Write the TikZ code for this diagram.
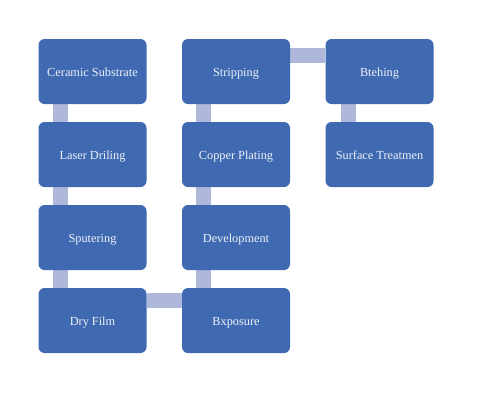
\documentclass[tikz,border=0pt]{standalone}
\usepackage{fontspec}
\setmainfont{Liberation Serif}
\usepackage{tikz}
\usetikzlibrary{positioning,calc}
\pgfdeclarelayer{background}
\pgfsetlayers{background,main}
\definecolor{boxblue}{HTML}{3F6AB2}
\definecolor{linkblue}{HTML}{AEB8DA}
\definecolor{boxtext}{HTML}{EEF1F8}

\begin{document}
\begin{tikzpicture}[x=1pt,y=-1pt,
  every node/.style={rectangle,rounded corners=6pt,fill=boxblue,text=boxtext,minimum width=108pt,minimum height=65pt,font=\fontsize{12.3}{14}\selectfont,inner sep=0pt,text height=10.5pt,text depth=0pt},
  link/.style={draw=linkblue,line width=15pt}]
\useasboundingbox (0,0) rectangle (495,400);

\node (c1) at (92.5,71.5) {Ceramic Substrate};
\node (c2) at (92.5,154.5) {Laser Driling};
\node (c3) at (92.5,237.5) {Sputering};
\node (c4) at (92.5,320.5) {Dry Film};

\node (d4) at (236,320.5) {Bxposure};
\node (d3) at (236,237.5) {Development};
\node (d2) at (236,154.5) {Copper Plating};
\node (d1) at (236,71.5) {Stripping};

\node (e1) at (379.5,71.5) {Btehing};
\node (e2) at (379.5,154.5) {Surface Treatmen};

\begin{pgfonlayer}{background}
\draw[link] ([xshift=22pt]c1.south west) -- ([xshift=22pt]c2.north west);
\draw[link] ([xshift=22pt]c2.south west) -- ([xshift=22pt]c3.north west);
\draw[link] ([xshift=22pt]c3.south west) -- ([xshift=22pt]c4.north west);
\draw[link] ([yshift=-13pt]c4.north east) -- ([yshift=-13pt]d4.north west);
\draw[link] ([xshift=22pt]d4.north west) -- ([xshift=22pt]d3.south west);
\draw[link] ([xshift=22pt]d3.north west) -- ([xshift=22pt]d2.south west);
\draw[link] ([xshift=22pt]d2.north west) -- ([xshift=22pt]d1.south west);
\draw[link] ([yshift=-17pt]d1.north east) -- ([yshift=-17pt]e1.north west);
\draw[link] ([xshift=23pt]e1.south west) -- ([xshift=23pt]e2.north west);
\end{pgfonlayer}
\end{tikzpicture}
\end{document}
